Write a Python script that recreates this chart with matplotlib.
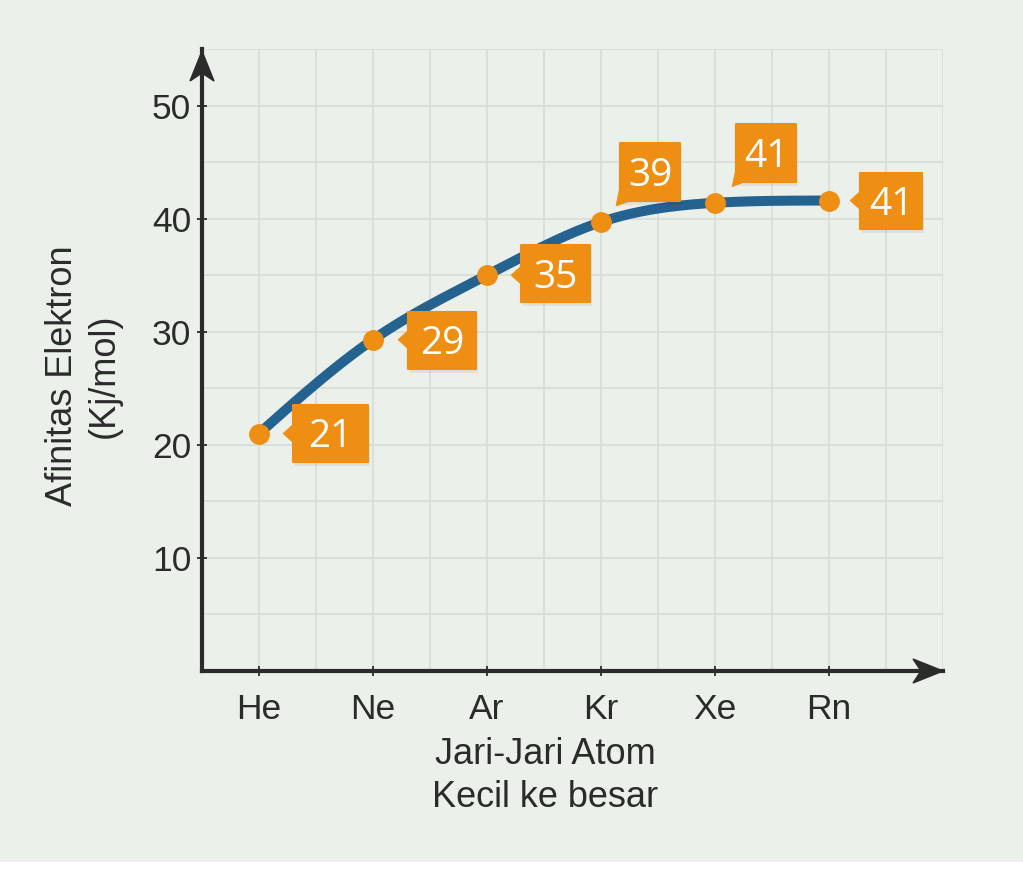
import numpy as np
import matplotlib
matplotlib.use("Agg")
import matplotlib.pyplot as plt
import matplotlib.transforms as mtrans
from matplotlib.patches import Polygon, Rectangle

# data
ATOMS = ["He", "Ne", "Ar", "Kr", "Xe", "Rn"]
AFFINITY = [21.0, 29.3, 35.0, 39.7, 41.4, 41.6]
LABELS = ["21", "29", "35", "39", "41", "41"]
YTICKS = [10, 20, 30, 40, 50]

BG = "#ebf0eb"
GRID = "#d6dcd6"
DARK = "#2b2b2b"
BLUE = "#24628f"
ORANGE = "#ee8f14"
FONT = "Liberation Sans"

# callout geometry in pixels relative to the point: box (x0, x1, y0, y1), tail triangle
CALLOUTS = [
    ((34, 109, -28, 29), [(34, 9), (24, 0), (34, -9)]),
    ((35, 103, -29, 28), [(35, 9), (25, 0), (35, -9)]),
    ((34, 103, -27, 30), [(34, 9), (24, 0), (34, -9)]),
    ((19, 79, 21, 79), [(19, 36), (15, 16), (29, 21)]),
    ((21, 81, 21, 79), [(21, 34), (17, 16), (30, 21)]),
    ((31, 93, -28, 28), [(31, 9), (21, 0), (31, -9)]),
]


def natural_spline(x, y, n=300):
    x = np.asarray(x, float); y = np.asarray(y, float)
    k = len(x); h = np.diff(x)
    A = np.zeros((k, k)); r = np.zeros(k)
    A[0, 0] = A[-1, -1] = 1
    for i in range(1, k - 1):
        A[i, i - 1] = h[i - 1]; A[i, i] = 2 * (h[i - 1] + h[i]); A[i, i + 1] = h[i]
        r[i] = 6 * ((y[i + 1] - y[i]) / h[i] - (y[i] - y[i - 1]) / h[i - 1])
    M = np.linalg.solve(A, r)
    xs = np.linspace(x[0], x[-1], n); ys = np.empty_like(xs)
    for j, t in enumerate(xs):
        i = min(np.searchsorted(x, t, side="right") - 1, k - 2)
        a, b = x[i + 1] - t, t - x[i]
        ys[j] = (M[i] * a**3 + M[i + 1] * b**3) / (6 * h[i]) \
            + (y[i] / h[i] - M[i] * h[i] / 6) * a + (y[i + 1] / h[i] - M[i + 1] * h[i] / 6) * b
    return xs, ys


fig = plt.figure(figsize=(10.23, 8.74), dpi=100, facecolor=BG)
fig.patches.append(Rectangle((0, 0), 1, 12 / 874, transform=fig.transFigure, color="white", zorder=-1))
ax = fig.add_axes([202 / 1023, 1 - 671 / 874, 741 / 1023, 622 / 874])
ax.set_facecolor("none")
ax.set_xlim(-0.5, 6.0)
ax.set_ylim(0, 55)

for gx in np.arange(0, 6.01, 0.5):
    ax.axvline(gx, color=GRID, lw=1.2, zorder=0)
for gy in np.arange(5, 55.1, 5):
    ax.axhline(gy, color=GRID, lw=1.2, zorder=0)

for s in ("top", "right"):
    ax.spines[s].set_visible(False)
for s in ("left", "bottom"):
    ax.spines[s].set_color(DARK); ax.spines[s].set_linewidth(3); ax.spines[s].set_capstyle("projecting")
    ax.spines[s].set_zorder(3)

ax.set_xticks(range(len(ATOMS)), ATOMS)
ax.set_yticks(YTICKS)
ax.tick_params(direction="inout", length=7.5, width=1.3, color=DARK, labelcolor=DARK, labelsize=25.5)
ax.tick_params(axis="x", pad=12)
ax.tick_params(axis="y", pad=4)
for lab in ax.get_xticklabels() + ax.get_yticklabels():
    lab.set_fontfamily(FONT)


def px(x, y):
    return mtrans.ScaledTranslation(x, y, ax.transData)


# arrowheads
head = [(0, 0), (-12, -30), (0, -22), (12, -30)]
ax.add_patch(Polygon([(xx, yy - 2) for xx, yy in head], closed=True, transform=px(-0.5, 55),
                     color=DARK, clip_on=False, zorder=4))
ax.add_patch(Polygon([(yy, -xx) for xx, yy in head], closed=True, transform=px(6.0, 0),
                     color=DARK, clip_on=False, zorder=4))

xs, ys = natural_spline(range(len(ATOMS)), AFFINITY)
ax.plot(xs, ys, color=BLUE, lw=7.2, solid_capstyle="butt", zorder=5)
ax.plot(range(len(ATOMS)), AFFINITY, "o", color=ORANGE, ms=14, zorder=6)

for i, (val, lab) in enumerate(zip(AFFINITY, LABELS)):
    (x0, x1, y0, y1), tail = CALLOUTS[i]
    tr = px(i, val)
    box = [(x0, y0), (x1, y0), (x1, y1), (x0, y1)]
    sh = mtrans.ScaledTranslation(i, val, ax.transData) + mtrans.Affine2D().translate(2, -4)
    ax.add_patch(Polygon(box, closed=True, transform=sh, color="#000000", alpha=0.06, lw=0, zorder=6))
    ax.add_patch(Polygon(box, closed=True, transform=tr, fc=ORANGE, ec=ORANGE, lw=1.5,
                         joinstyle="round", zorder=7, clip_on=False))
    ax.add_patch(Polygon(tail, closed=True, transform=tr, fc=ORANGE, ec=ORANGE, lw=0.5,
                         zorder=7, clip_on=False))
    cx, cy = (x0 + x1) / 2, (y0 + y1) / 2
    ax.text(cx, cy - 14, lab, transform=tr, ha="center", va="baseline", color="white",
            fontsize=28, family="Open Sans", zorder=8)

fig.text(83 / 1023, 1 - 376 / 874, "Afinitas Elektron\n(Kj/mol)", rotation=90, ha="center",
         va="center", fontsize=26, family=FONT, color=DARK, linespacing=1.25)
fig.text(545 / 1023, 1 - 776 / 874, "Jari-Jari Atom\nKecil ke besar", ha="center",
         va="center", fontsize=26, family=FONT, color=DARK, linespacing=1.3)

fig.savefig("out.png", dpi=100, facecolor=BG)
